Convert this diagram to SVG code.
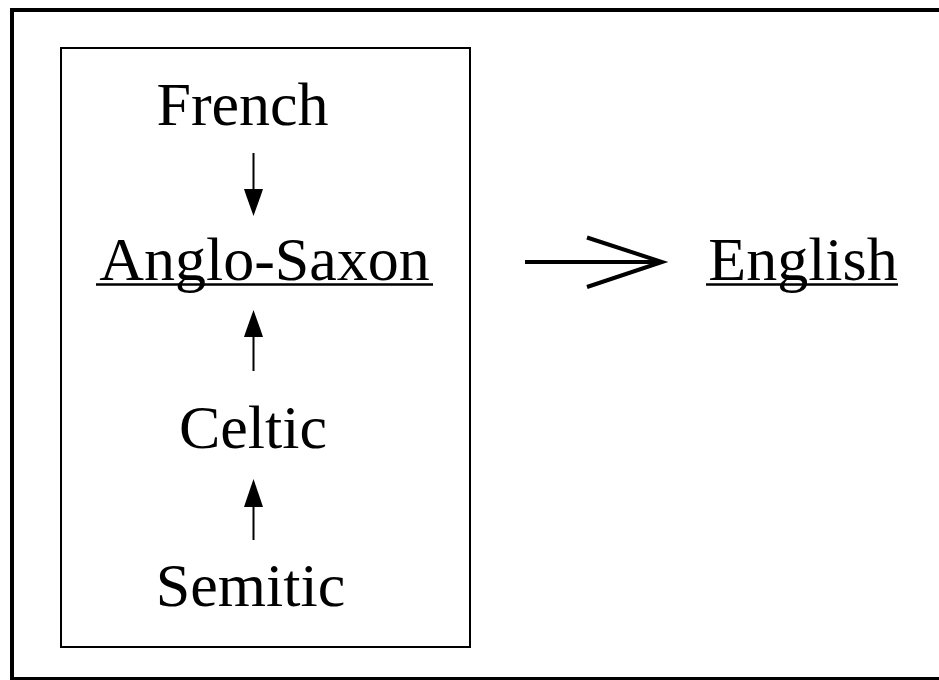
<svg xmlns="http://www.w3.org/2000/svg" width="939" height="680" viewBox="0 0 939 680">
<style>
.t{font-family:"Liberation Serif","Times New Roman",serif;font-size:62px;fill:#000;text-anchor:middle}
.ln{stroke:#000;fill:none}
</style>
<rect x="0" y="0" width="939" height="680" fill="#fff"/>
<g id="frame">
<rect x="12" y="10" width="940" height="669" fill="none" stroke="#000" stroke-width="4"/>
</g>
<g id="group-box">
<rect x="61" y="48" width="409" height="599" fill="none" stroke="#000" stroke-width="2"/>
</g>
<g id="french"><text class="t" x="242.5" y="125">French</text></g>
<g id="anglo-saxon"><text class="t" x="264.5" y="280">Anglo-Saxon</text>
<line class="ln" x1="96" y1="284.5" x2="433" y2="284.5" stroke-width="2.5"/></g>
<g id="celtic"><text class="t" x="253" y="448">Celtic</text></g>
<g id="semitic"><text class="t" x="250.5" y="606">Semitic</text></g>
<g id="english"><text class="t" x="803" y="280">English</text>
<line class="ln" x1="706" y1="284.5" x2="898" y2="284.5" stroke-width="2.5"/></g>
<g id="connectors">
<line class="ln" x1="253.5" y1="153" x2="253.5" y2="192" stroke-width="2"/>
<polygon points="244,189 263,189 261,195 253.5,216 246,195" fill="#000"/>
<line class="ln" x1="253.5" y1="334" x2="253.5" y2="371" stroke-width="2"/>
<polygon points="244,337 263,337 261,331 253.5,310 246,331" fill="#000"/>
<line class="ln" x1="253.5" y1="504" x2="253.5" y2="540" stroke-width="2"/>
<polygon points="244,507 263,507 261,501 253.5,479 246,501" fill="#000"/>
<line class="ln" x1="525" y1="262" x2="661" y2="262" stroke-width="4"/>
<polyline class="ln" points="587,237.5 662,262 587,287" stroke-width="4"/>
</g>
</svg>
